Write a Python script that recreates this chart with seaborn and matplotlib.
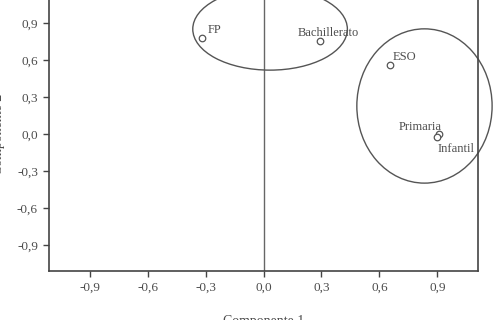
import matplotlib
matplotlib.use("Agg")
import matplotlib.pyplot as plt
from matplotlib.patches import Ellipse
import seaborn as sns
import pandas as pd

# Data
categories = ["FP", "Bachillerato", "ESO", "Primaria", "Infantil"]
comp1 = [-0.316, 0.290, 0.657, 0.910, 0.900]
comp2 = [0.779, 0.754, 0.560, 0.000, -0.024]
tick_values = [-0.9, -0.6, -0.3, 0.0, 0.3, 0.6, 0.9]
tick_labels = ["-0,9", "-0,6", "-0,3", "0,0", "0,3", "0,6", "0,9"]

df = pd.DataFrame({"cat": categories, "c1": comp1, "c2": comp2})

sns.set_theme(style="white")
plt.rcParams["font.family"] = ["Liberation Serif", "DejaVu Serif"]

txt = "#4d4d4d"
fig = plt.figure(figsize=(4.93, 3.2), dpi=100)
ax = fig.add_axes([49 / 493, 49 / 320, 429 / 493, 274 / 320])

ax.axvline(0, color="#666666", lw=1.0, zorder=1)

sns.scatterplot(data=df, x="c1", y="c2", ax=ax, s=22, marker="o",
                facecolor="white", edgecolor="#555555", linewidth=0.9, zorder=3)

# clusters
ax.add_patch(Ellipse((0.034, 0.85), 0.80, 0.665, fill=False,
                     edgecolor="#555555", lw=1.0, zorder=2))
ax.add_patch(Ellipse((0.833, 0.227), 0.70, 1.25, fill=False,
                     edgecolor="#555555", lw=1.0, zorder=2, clip_on=False))

offsets = {
    "FP": (5, 5, "left", "baseline"),
    "Bachillerato": (9, 5, "center", "baseline"),
    "ESO": (2, 5, "left", "baseline"),
    "Primaria": (2, 4, "right", "baseline"),
    "Infantil": (0, -6, "left", "top"),
}
for c, x, y in zip(categories, comp1, comp2):
    dx, dy, ha, va = offsets[c]
    ax.annotate(c, (x, y), xytext=(dx, dy), textcoords="offset pixels",
                ha=ha, va=va, fontsize=9, color=txt)

ax.set_xlim(-1.11, 1.11)
ax.set_ylim(-1.11, 1.11)
ax.set_xticks(tick_values)
ax.set_xticklabels(tick_labels)
ax.set_yticks(tick_values)
ax.set_yticklabels(tick_labels)
ax.tick_params(axis="both", direction="out", length=4, width=1.0,
               color="#444444", labelsize=9.5, labelcolor=txt, pad=4)
ax.tick_params(axis="x", bottom=True)
ax.tick_params(axis="y", left=True)

for sp in ax.spines.values():
    sp.set_color("#444444")
    sp.set_linewidth(1.2)

ax.set_xlabel("Componente 1", fontsize=10, color=txt)
ax.set_ylabel("Componente 2", fontsize=10, color=txt)
ax.xaxis.set_label_coords(0.5, -0.16)
ax.yaxis.set_label_coords(-0.103, 0.5)

fig.savefig("out.png", dpi=100)
